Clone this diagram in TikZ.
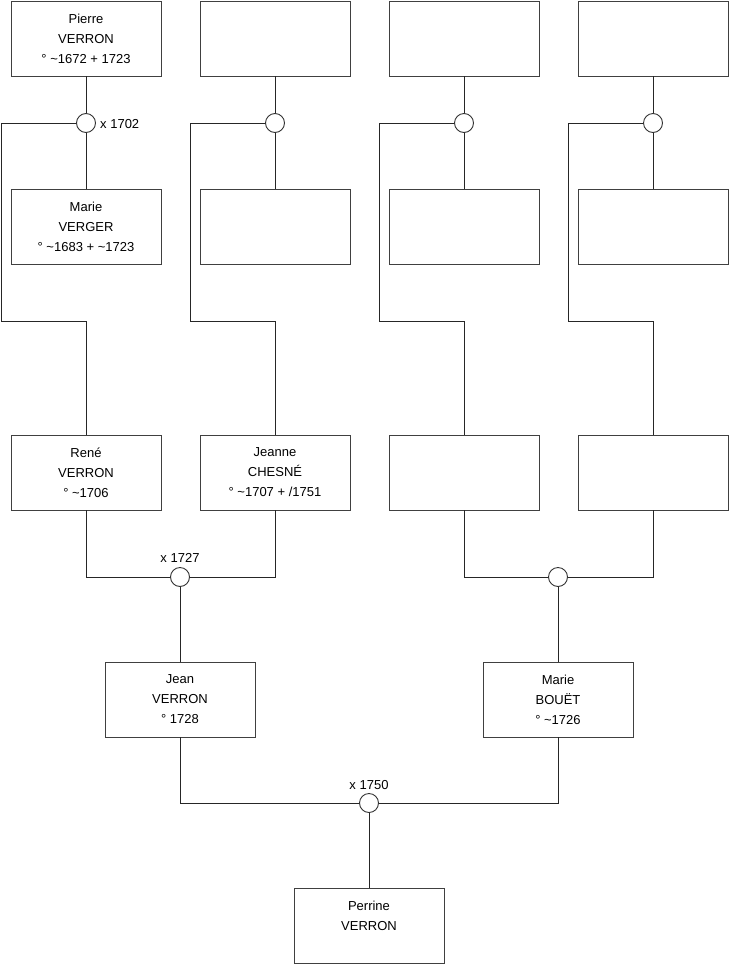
\documentclass[tikz,border=0pt]{standalone}
\usepackage{fontspec}
\setmainfont{Liberation Sans}
\begin{document}
\begin{tikzpicture}[x=1pt,y=-1pt,
  person/.style={draw=black!75, line width=0.9pt, minimum width=150pt, minimum height=75pt, inner sep=0pt, align=center, font=\fontsize{13}{20}\selectfont},
  mar/.style={circle, draw=black!80, line width=0.9pt, fill=white, minimum size=19pt, inner sep=0pt},
  link/.style={draw=black!85, line width=0.9pt},
  lbl/.style={font=\fontsize{13}{16}\selectfont, inner sep=0pt}]
\useasboundingbox (0,0) rectangle (740,975);
% row 1
\node[person] (a1) at (86,38.5) {Pierre\\VERRON\\° \textasciitilde1672 + 1723};
\node[person] (a2) at (275,38.5) {};
\node[person] (a3) at (464,38.5) {};
\node[person] (a4) at (653,38.5) {};
% row 2
\node[person] (b1) at (86,227) {Marie\\VERGER\\° \textasciitilde1683 + \textasciitilde1723};
\node[person] (b2) at (275,227) {};
\node[person] (b3) at (464,227) {};
\node[person] (b4) at (653,227) {};
% marriage circles row 1
\node[mar] (m1) at (86,123) {};
\node[mar] (m2) at (275,123) {};
\node[mar] (m3) at (464,123) {};
\node[mar] (m4) at (653,123) {};
\node[lbl, anchor=west] (l1) at (100,124) {x 1702};
% row 3
\node[person] (r1) at (86,472.5) {René\\VERRON\\° \textasciitilde1706};
\node[person] (r2) at (275,472.5) {Jeanne\\CHESNÉ\\° \textasciitilde1707 + /1751};
\node[person] (r3) at (464,472.5) {};
\node[person] (r4) at (653,472.5) {};
% circles row 3
\node[mar] (c1) at (180,577) {};
\node[mar] (c2) at (558,577) {};
\node[lbl] (l2) at (180,558) {x 1727};
% row 4
\node[person] (j1) at (180,699.5) {Jean\\VERRON\\° 1728};
\node[person] (j2) at (558,699.5) {Marie\\BOUËT\\° \textasciitilde1726};
\node[mar] (c3) at (369,803) {};
\node[lbl] (l3) at (369,785) {x 1750};
% row 5
\node[person] (p) at (369,925.5) {Perrine\\VERRON\\\mbox{}};
% connectors
\foreach \i/\xl in {1/1,2/190,3/379,4/568}{
  \draw[link] (a\i.south) -- (m\i.north);
  \draw[link] (m\i.south) -- (b\i.north);
  \draw[link] (m\i.west) -| (\xl,321) -| (r\i.north);
}
\draw[link] (r1.south) |- (c1.west);
\draw[link] (r2.south) |- (c1.east);
\draw[link] (c1.south) -- (j1.north);
\draw[link] (r3.south) |- (c2.west);
\draw[link] (r4.south) |- (c2.east);
\draw[link] (c2.south) -- (j2.north);
\draw[link] (j1.south) |- (c3.west);
\draw[link] (j2.south) |- (c3.east);
\draw[link] (c3.south) -- (p.north);
\end{tikzpicture}
\end{document}
